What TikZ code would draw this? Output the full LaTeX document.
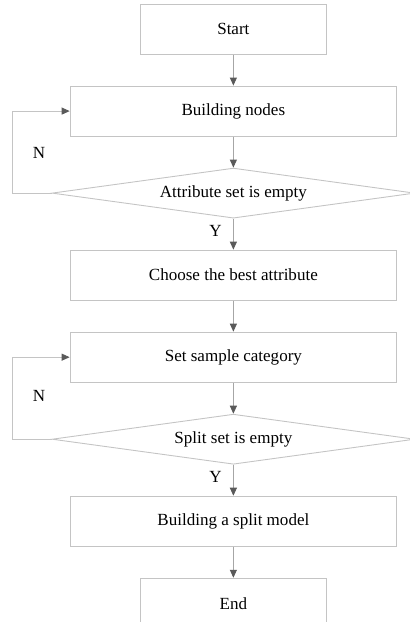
\documentclass[tikz,border=0pt]{standalone}
\usepackage{fontspec}
\setmainfont{Liberation Serif}
\usetikzlibrary{shapes,arrows.meta,positioning}
\definecolor{boxgray}{HTML}{C4C4C4}
\definecolor{linegray}{HTML}{A6A6A6}
\definecolor{tipgray}{HTML}{5A5A5A}

\begin{document}
\begin{tikzpicture}[
            x=1pt, y=1pt,
            node distance=31pt,
            font=\fontsize{17}{20}\selectfont,
            process/.style={rectangle, draw=boxgray, line width=0.9pt, minimum width=326pt, minimum height=50pt, inner sep=0pt},
            terminal/.style={process, minimum width=185pt},
            decision/.style={diamond, draw=boxgray, line width=0.9pt, minimum width=362pt, minimum height=50pt, inner sep=0pt, aspect=7},
            arrow/.style={draw=linegray, line width=0.9pt, -{Triangle[length=8pt, width=7pt, color=tipgray]}},
            loopback/.style={arrow, draw=boxgray}
        ]
            \useasboundingbox (0,0) rectangle (409,-621);
            % Main components
            \node[terminal] (start) at (233,-29) {Start};
            \node[process, below=of start] (build) {Building nodes};
            \node[decision, below=of build] (attrempty) {Attribute set is empty};
            \node[process, below=of attrempty] (choose) {Choose the best attribute};
            \node[process, below=of choose] (category) {Set sample category};
            \node[decision, below=of category] (splitempty) {Split set is empty};
            \node[process, below=of splitempty] (model) {Building a split model};
            \node[terminal, below=of model] (end) {End};

            % Loop corners and labels
            \coordinate (loopone) at (12,0);
            \coordinate (looptwo) at (12,0);
            \node (nolabelone) at (39,-153) {N};
            \node (nolabeltwo) at (39,-395) {N};

            % Arrows
            \draw[arrow] (start) -- (build);
            \draw[arrow] (build) -- (attrempty);
            \draw[arrow] (attrempty) -- node[pos=0.4, left=8pt] {Y} (choose);
            \draw[arrow] (choose) -- (category);
            \draw[arrow] (category) -- (splitempty);
            \draw[arrow] (splitempty) -- node[pos=0.4, left=8pt] {Y} (model);
            \draw[arrow] (model) -- (end);
            \draw[loopback] (attrempty.west) -- (loopone |- attrempty.west) -- (loopone |- build.west) -- (build.west);
            \draw[loopback] (splitempty.west) -- (looptwo |- splitempty.west) -- (looptwo |- category.west) -- (category.west);
        \end{tikzpicture}
\end{document}
